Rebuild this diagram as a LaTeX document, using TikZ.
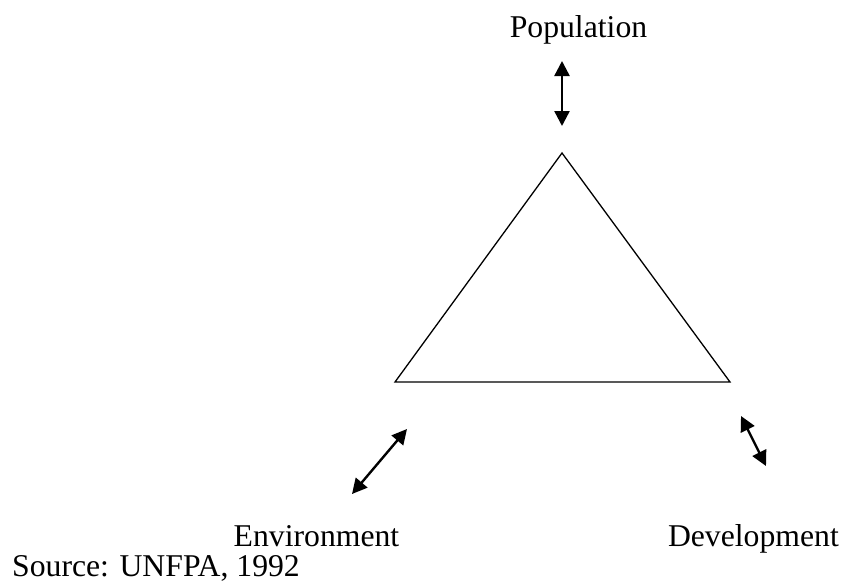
\documentclass[tikz,border=0pt]{standalone}
\usepackage{fontspec}
\setmainfont{Liberation Serif}
\usetikzlibrary{arrows.meta}
\begin{document}
\begin{tikzpicture}[x=1pt,y=-1pt,
  lbl/.style={font=\fontsize{31.7}{38}\selectfont, anchor=base, inner sep=0pt},
  dbl/.style={line width=2.4pt, {Triangle[length=15pt,width=15pt]}-{Triangle[length=15pt,width=15pt]}},
  tri/.style={line width=1.3pt, line join=miter}]
\useasboundingbox (0,0) rectangle (845,582);
\coordinate (apex) at (562,153);
\coordinate (lft) at (395,382);
\coordinate (rgt) at (730,382);
\draw[tri] (apex) -- (lft) -- (rgt) -- cycle;
\node[lbl] (pop) at (578.5,37) {Population};
\node[lbl] (env) at (316.5,546) {Environment};
\node[lbl, anchor=base east] (dev) at (839,546) {Development};
\node[lbl, anchor=base west] (src) at (12,576.5) {Source: UNFPA, 1992};
\coordinate (p1) at (562,61);
\coordinate (p2) at (562,126);
\coordinate (e1) at (407,429);
\coordinate (e2) at (352,494);
\coordinate (d1) at (741,416);
\coordinate (d2) at (766,466);
\draw[dbl] (p1) -- (p2);
\draw[dbl] (e1) -- (e2);
\draw[dbl] (d1) -- (d2);
\end{tikzpicture}
\end{document}
